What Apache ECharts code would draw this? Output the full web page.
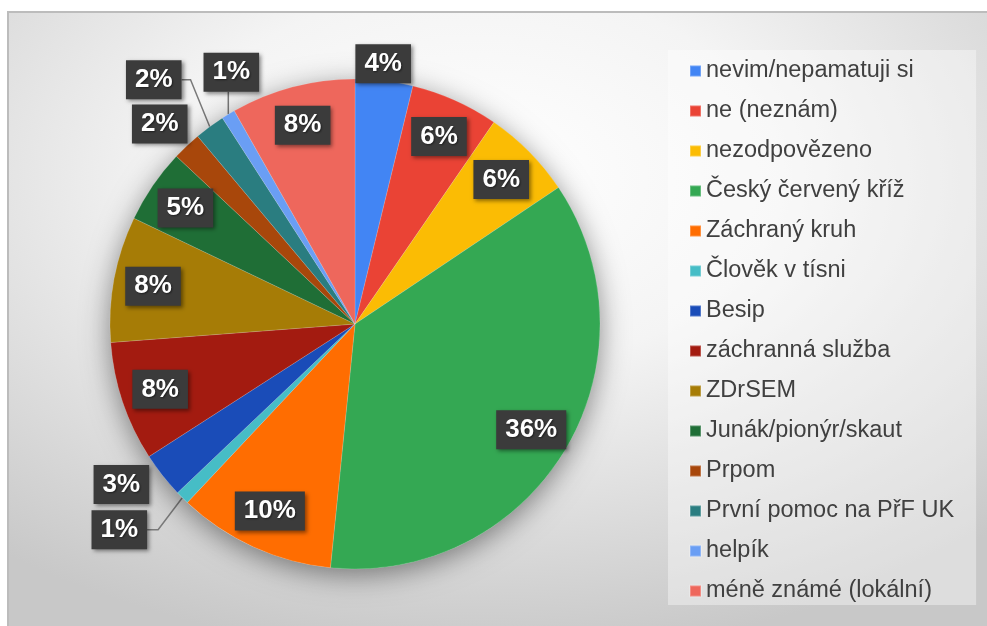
<!DOCTYPE html>
<html><head><meta charset="utf-8">
<script src="https://cdn.jsdelivr.net/npm/echarts@6/dist/echarts.min.js"></script>
<style>html,body{margin:0;padding:0;background:#fff}#c{width:987px;height:626px}</style>
</head><body><div id="c"></div>
<script>
// ---- data ----
const categories = ['nevim/nepamatuji si', 'ne (neznám)', 'nezodpovězeno', 'Český červený kříž', 'Záchraný kruh', 'Člověk v tísni', 'Besip', 'záchranná služba', 'ZDrSEM', 'Junák/pionýr/skaut', 'Prpom', 'První pomoc na PřF UK', 'helpík', 'méně známé (lokální)'];
const shares = [3.8, 5.8, 6.0, 36.0, 10.4, 0.9, 3.0, 7.9, 8.3, 4.9, 1.9, 2.0, 0.9, 8.2];
const colors = ['#4285f4', '#ea4335', '#fbbc04', '#34a853', '#ff6d01', '#46bdc6', '#1a4cb8', '#a31b10', '#a67c06', '#1f6e36', '#a8470b', '#2a7d80', '#6a9ef4', '#ee675c'];

// ---- layout of outside labels (offset of label centre from slice edge point) ----
const outsidePlacement = {
  0: { dx: -1, dy: -17, line: 'none' },
  5: { dx: -63, dy: 32, line: 'side', bend: 11 },
  6: { dx: -41, dy: 9, line: 'none' },
  10: { dx: -27, dy: -22, line: 'none' },
  11: { dx: -56, dy: -47, line: 'side', bend: 9 },
  12: { dx: 3, dy: -42, line: 'up' }
};

const CX = 355, CY = 324, R = 245;
const chart = echarts.init(document.getElementById('c'), null, { renderer: 'canvas' });

const labelBox = {
  color: '#ffffff', fontFamily: 'Liberation Sans, Arial, sans-serif', fontWeight: 'bold', fontSize: 26,
  backgroundColor: '#3b3b3b', padding: [7, 9, 6, 9],
  shadowBlur: 4, shadowOffsetX: 2, shadowOffsetY: 2, shadowColor: 'rgba(0,0,0,0.45)',
  textShadowBlur: 2, textShadowColor: 'rgba(0,0,0,0.5)', textShadowOffsetX: 1, textShadowOffsetY: 1,
  formatter: p => Math.round(p.percent) + '%'
};

const pieData = categories.map((n, i) => ({ name: n, value: shares[i], itemStyle: { color: colors[i] } }));
const labelData = categories.map((n, i) => {
  const o = outsidePlacement[i];
  const item = { name: n, value: shares[i] };
  if (o) {
    item.label = { position: 'outside' };
    item.labelLine = { show: true, length: 5, length2: 0 };
  }
  return item;
});

chart.setOption({
  animation: false,
  color: colors,
  graphic: [
    {
      type: 'rect', x: 8, y: 12, scaleX: 979 / 614, z: -10, silent: true,
      shape: { x: 0, y: 0, width: 614, height: 614 },
      style: {
        fill: {
          type: 'radial', x: 0.48, y: 0.27, r: 0.78,
          colorStops: [
            { offset: 0, color: '#ffffff' },
            { offset: 0.4, color: '#f4f4f4' },
            { offset: 1, color: '#c8c8c8' }
          ]
        }
      }
    },
    {
      type: 'rect', x: 8, y: 12, z: -9, silent: true,
      shape: { x: 0, y: 0, width: 985, height: 620 },
      style: { fill: 'none', stroke: '#bcbcbc', lineWidth: 2 }
    }
  ],
  legend: {
    orient: 'vertical', left: 668, top: 50,
    padding: [9, 22, 2, 21],
    backgroundColor: 'rgba(255,255,255,0.38)',
    icon: 'rect', itemWidth: 11, itemHeight: 11, itemGap: 16,
    textStyle: { fontFamily: 'Liberation Sans, Arial, sans-serif', fontSize: 23.5, lineHeight: 23, color: '#404040' },
    data: categories
  },
  series: [
    {
      type: 'pie', silent: true, center: [CX, CY], radius: R,
      data: [{ value: 1, name: '_shadow' }],
      itemStyle: { color: '#d0d0d0', shadowBlur: 28, shadowOffsetY: 6, shadowColor: 'rgba(0,0,0,0.45)' },
      label: { show: false }, labelLine: { show: false }, emphasis: { disabled: true }, tooltip: { show: false },
      legendHoverLink: false
    },
    {
      type: 'pie', name: 'main', center: [CX, CY], radius: R,
      data: pieData,
      itemStyle: { borderWidth: 0.6, borderColor: 'rgba(255,255,255,0.25)' },
      label: { show: false }, labelLine: { show: false },
      emphasis: { disabled: true }
    },
    {
      type: 'pie', name: 'labels', center: [CX, CY], radius: [160, R],
      silent: true, avoidLabelOverlap: false,
      data: labelData,
      itemStyle: { color: 'rgba(0,0,0,0)' },
      label: Object.assign({ show: true, position: 'inside' }, labelBox),
      labelLine: { show: false, lineStyle: { color: '#7a7a7a', width: 1.5 } },
      emphasis: { disabled: true },
      labelLayout: function (p) {
        const o = outsidePlacement[p.dataIndex];
        if (!o || !p.labelLinePoints) return {};
        const a = p.labelLinePoints[0];
        const cx = a[0] + o.dx, cy = a[1] + o.dy;
        const w = p.labelRect.width, h = p.labelRect.height;
        let pts;
        if (o.line === 'side') {
          const ex = cx + w / 2;
          pts = [[a[0], a[1]], [ex + o.bend, cy], [ex, cy]];
        } else if (o.line === 'up') {
          pts = [[a[0], a[1]], [a[0], cy + h / 2], [a[0], cy + h / 2]];
        } else {
          pts = [[a[0], a[1]], [a[0], a[1]], [a[0], a[1]]];
        }
        return { x: cx, y: cy, align: 'center', verticalAlign: 'middle', labelLinePoints: pts };
      }
    }
  ]
});
</script>
</body></html>
